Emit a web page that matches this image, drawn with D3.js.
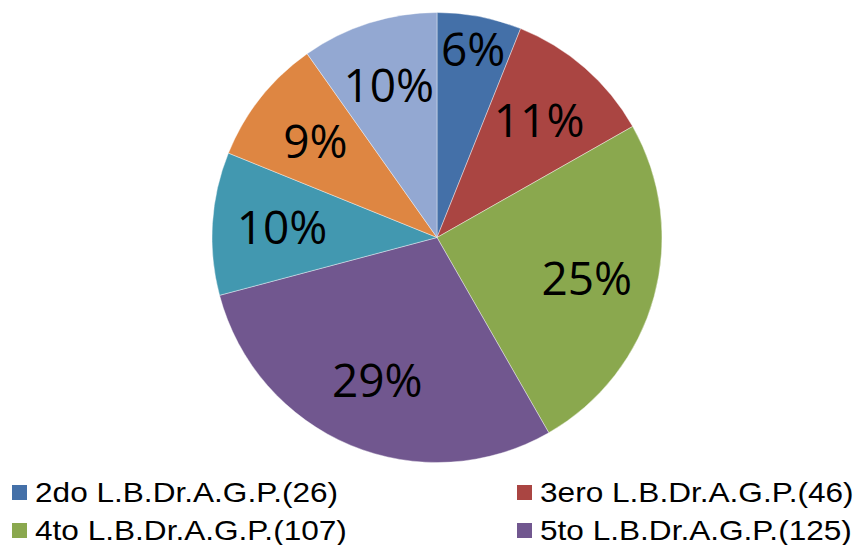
<!DOCTYPE html>
<html>
<head>
<meta charset="utf-8">
<script src="https://cdn.jsdelivr.net/npm/d3@7/dist/d3.min.js"></script>
<style>
  html, body { margin: 0; padding: 0; background: #ffffff; }
  svg { display: block; }
</style>
</head>
<body>
<svg id="chart" width="862" height="545"></svg>
<script>
// ---- data ----
const categories = [
  "2do L.B.Dr.A.G.P.",
  "3ero L.B.Dr.A.G.P.",
  "4to L.B.Dr.A.G.P.",
  "5to L.B.Dr.A.G.P.",
  "6to L.B.Dr.A.G.P.",
  "7mo L.B.Dr.A.G.P.",
  "8vo L.B.Dr.A.G.P."
];
const values = [26, 46, 107, 125, 44, 39, 42];
const colors = ["#4470A8", "#AA4542", "#8AA84E", "#71578F", "#4298B0", "#DE8642", "#93A8D2"];
const legendShown = 4; // the legend in the picture shows the first four entries

// ---- layout ----
const W = 862, H = 545;
const cx = 437, cy = 237.5, R = 225;
const svg = d3.select("#chart");

const total = d3.sum(values);
const data = categories.map((c, i) => ({ name: c, value: values[i], color: colors[i] }));

const pie = d3.pie().value(d => d.value).sort(null);
const arcs = pie(data);
const arc = d3.arc().innerRadius(0).outerRadius(R);

const g = svg.append("g").attr("transform", `translate(${cx},${cy})`);

g.selectAll("path.slice")
  .data(arcs)
  .enter().append("path")
  .attr("class", "slice")
  .attr("d", arc)
  .attr("fill", d => d.data.color)
  .attr("stroke", "#ffffff")
  .attr("stroke-opacity", 0.5)
  .attr("stroke-width", 0.8);

// best-fit label placement: push label outward until its box fits in the wedge
function angleOf(x, y) {
  let a = Math.atan2(x, -y);
  if (a < 0) a += 2 * Math.PI;
  return a;
}
function fits(d, r, w, h) {
  const mid = (d.startAngle + d.endAngle) / 2;
  const x = r * Math.sin(mid), y = -r * Math.cos(mid);
  const pad = 0.01;
  const corners = [[x - w/2, y - h/2], [x + w/2, y - h/2], [x - w/2, y + h/2], [x + w/2, y + h/2]];
  return corners.every(([px, py]) => {
    const a = angleOf(px, py);
    return a >= d.startAngle + pad && a <= d.endAngle - pad;
  });
}

const labels = g.selectAll("text.pct")
  .data(arcs)
  .enter().append("text")
  .attr("class", "pct")
  .attr("text-anchor", "middle")
  .attr("dy", "0.36em")
  .attr("font-family", "'Open Sans', sans-serif")
  .attr("font-size", 46)
  .attr("fill", "#000000")
  .text(d => Math.round(d.data.value / total * 100) + "%");

labels.each(function(d) {
  const w = this.getComputedTextLength();
  const h = 33;
  let r = R * 0.69;
  while (r < R * 0.85 && !fits(d, r, w, h)) r += 1;
  const mid = (d.startAngle + d.endAngle) / 2;
  d3.select(this).attr("transform", `translate(${r * Math.sin(mid)},${-r * Math.cos(mid)})`);
});

// ---- legend ----
const colX = [12, 517];
const rowY = [502, 540];
const legend = svg.append("g");
data.slice(0, legendShown).forEach((d, i) => {
  const col = i % 2, row = Math.floor(i / 2);
  const x = colX[col], y = rowY[row];
  const item = legend.append("g").attr("transform", `translate(${x},${y})`);
  item.append("rect")
    .attr("x", 0).attr("y", -17)
    .attr("width", 15).attr("height", 15)
    .attr("fill", d.color);
  item.append("text")
    .attr("transform", "translate(23,0) scale(1.17,1)")
    .attr("font-family", "'Liberation Sans', Arial, sans-serif")
    .attr("font-size", 27)
    .attr("fill", "#000000")
    .text(`${d.name}(${d.value})`);
});
</script>
</body>
</html>
